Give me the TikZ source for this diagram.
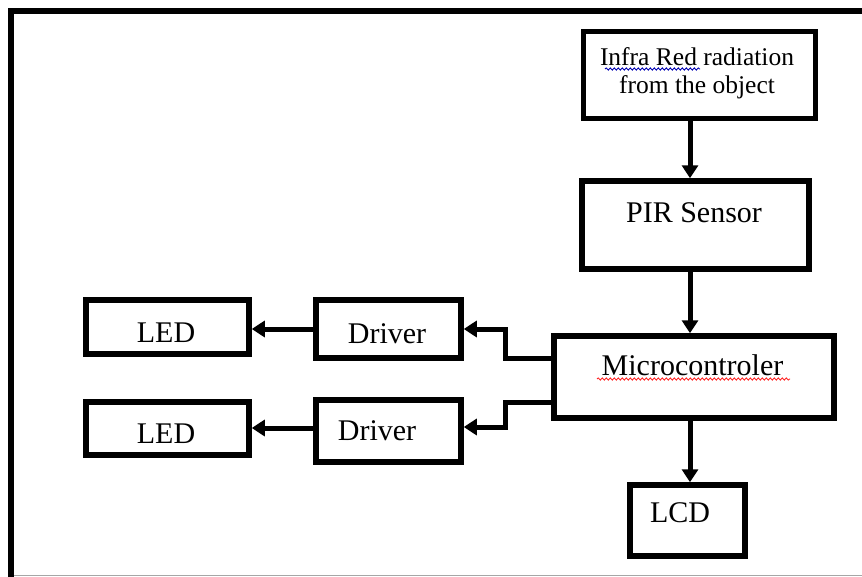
\documentclass[tikz,border=0pt]{standalone}
\usepackage{fontspec}
\setmainfont{Liberation Serif}
\usetikzlibrary{arrows.meta,decorations.pathmorphing}

\tikzset{
  blk/.style={draw, line width=5.5pt, inner sep=0pt},
  lbl/.style={anchor=base, inner sep=0pt, font=\fontsize{30}{36}\selectfont},
  smalllbl/.style={anchor=base, inner sep=0pt, font=\fontsize{25.5}{30}\selectfont},
  arr/.style={line width=5pt, -{Triangle[width=16pt,length=13pt]}},
  wavy/.style={line width=0.9pt, decorate, decoration={snake, segment length=4pt, amplitude=1.1pt}},
}

\begin{document}
\begin{tikzpicture}[x=1pt, y=-1pt]
\useasboundingbox (0,0) rectangle (862,576);

% outer frame
\begin{scope}
  \clip (0,0) rectangle (862,576);
  \draw[line width=6pt] (870,11) -- (11,11) -- (11,590);
  \draw[line width=1pt, black!35] (14,575) -- (862,575);
\end{scope}

% blocks
\node[blk, minimum width=232pt, minimum height=87pt] (ir)   at (699.5,75)   {};
\node[blk, minimum width=227pt, minimum height=88pt] (pir)  at (695.5,225)  {};
\node[blk, minimum width=280pt, minimum height=82pt] (mcu)  at (694,377)    {};
\node[blk, minimum width=145pt, minimum height=58pt] (drv1) at (388.5,329)  {};
\node[blk, minimum width=145pt, minimum height=62pt] (drv2) at (388.5,431)  {};
\node[blk, minimum width=163pt, minimum height=54pt] (led1) at (167.5,327)  {};
\node[blk, minimum width=163pt, minimum height=53pt] (led2) at (167.5,428.5){};
\node[blk, minimum width=115pt, minimum height=71pt] (lcd)  at (687.5,520.5){};

% labels
\node[smalllbl] (irt1) at (697,65) {Infra Red radiation};
\node[smalllbl] (irt2) at (697,93) {from the object};
\node[lbl] (pirt)  at (694,222)   {PIR Sensor};
\node[lbl] (mcut)  at (692.5,375) {Microcontroler};
\node[lbl] (drv1t) at (387,343)   {Driver};
\node[lbl] (drv2t) at (377,440)   {Driver};
\node[lbl] (led1t) at (166,342)   {LED};
\node[lbl] (led2t) at (166,443)   {LED};
\node[lbl] (lcdt)  at (680,522)   {LCD};

% spell-check underlines
\draw[wavy, blue!70!black] (605,69) -- (700,69);
\draw[wavy, red!85] (597,379) -- (790,379);

% connectors
\draw[arr] ([xshift=-9.5pt]ir.south) -- ([xshift=-9.5pt]ir.south |- pir.north);
\draw[arr] ([xshift=-5.5pt]pir.south) -- ([xshift=-5.5pt]pir.south |- mcu.north);
\draw[arr] ([xshift=-4pt]mcu.south) -- ([xshift=-4pt]mcu.south |- lcd.north);
\draw[arr] ([yshift=19pt]mcu.west) -- ++(-46,0) |- (drv1.east);
\draw[arr] ([yshift=-25pt]mcu.west) -- ++(-46,0) |- ([yshift=4pt]drv2.east);
\draw[arr] (drv1.west) -- (drv1.west -| led1.east);
\draw[arr] ([yshift=3pt]drv2.west) -- ([yshift=3pt]drv2.west -| led2.east);
\end{tikzpicture}
\end{document}
